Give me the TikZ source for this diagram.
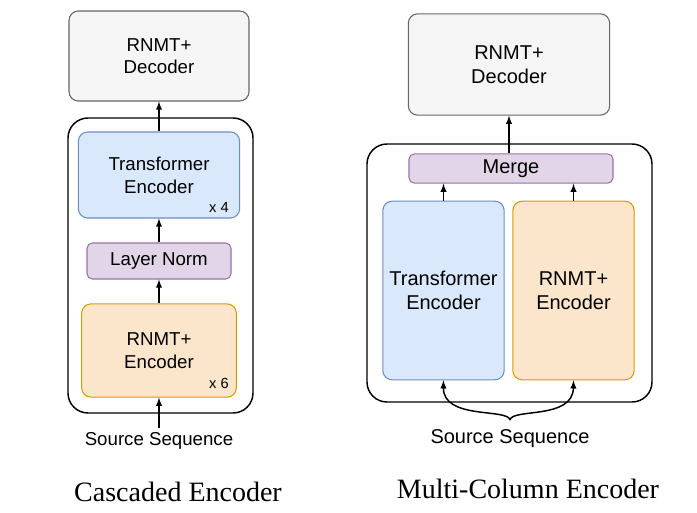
\documentclass[tikz,border=0pt]{standalone}
\usepackage{fontspec}
\setmainfont{Liberation Sans}
\newfontfamily\captionfont{Liberation Serif}
\usetikzlibrary{arrows}

\definecolor{decfill}{HTML}{F5F5F5}
\definecolor{decline}{HTML}{666666}
\definecolor{tffill}{HTML}{DAE8FC}
\definecolor{tfline}{HTML}{6C8EBF}
\definecolor{rnnfill}{HTML}{FBE6CC}
\definecolor{rnnline}{HTML}{D79B00}
\definecolor{normfill}{HTML}{E1D5E7}
\definecolor{normline}{HTML}{9673A6}

\tikzset{
  block/.style={rounded corners=7pt, line width=0.8pt, inner sep=0pt, align=center},
  decbox/.style={block, fill=decfill, draw=decline},
  tfbox/.style={block, fill=tffill, draw=tfline},
  rnnbox/.style={block, fill=rnnfill, draw=rnnline},
  normbox/.style={block, fill=normfill, draw=normline, rounded corners=4pt},
  outerbox/.style={rounded corners=15pt, line width=1.1pt},
  flow/.style={-latex, line width=1.1pt},
  small/.style={font=\fontsize{14}{17}\selectfont},
  large/.style={font=\fontsize{15}{18}\selectfont},
  repeat/.style={font=\fontsize{11}{13}\selectfont, inner sep=0pt},
  caption/.style={font=\captionfont\fontsize{21}{24}\selectfont}
}

\begin{document}
\begin{tikzpicture}[x=0.75pt, y=-0.75pt]
        \useasboundingbox (0,0) rectangle (697,512);

        %cascaded encoder
        \draw[outerbox] (68,118) rectangle (253,413);
        \node[decbox, small, minimum width=135pt, minimum height=67.5pt] (dec1) at (159,56) {RNMT+\\Decoder};
        \node[tfbox, small, minimum width=121pt, minimum height=64.5pt] (tf1) at (159,175) {Transformer\\Encoder};
        \node[normbox, small, minimum width=108pt, minimum height=27pt] (norm1) at (159,261) {Layer Norm};
        \node[rnnbox, small, minimum width=116pt, minimum height=70pt] (rnn1) at (159,350.5) {RNMT+\\Encoder};
        \node[repeat] (rep1) at (219,207) {x 4};
        \node[repeat] (rep2) at (219,383) {x 6};
        \node[small] (src1) at (159,441) {Source Sequence};
        \node[caption] (cap1) at (178,492) {Cascaded Encoder};

        \draw[flow] (src1) -- (rnn1);
        \draw[flow] (rnn1) -- (norm1);
        \draw[flow] (norm1) -- (tf1);
        \draw[flow] (tf1) -- (dec1);

        %multi-column encoder
        \draw[outerbox] (367,144) rectangle (652,402);
        \node[decbox, large, minimum width=151pt, minimum height=76pt] (dec2) at (509,64.5) {RNMT+\\Decoder};
        \node[normbox, large, minimum width=153pt, minimum height=22pt] (merge) at (511,168.5) {Merge};
        \node[tfbox, large, minimum width=91pt, minimum height=134pt] (tf2) at (443.5,290.5) {Transformer\\Encoder};
        \node[rnnbox, large, minimum width=91pt, minimum height=134pt] (rnn2) at (573.5,290.5) {RNMT+\\Encoder};
        \node[large] (src2) at (510,439) {Source Sequence};
        \node[caption] (cap2) at (528,489) {Multi-Column Encoder};
        \coordinate (tip) at (510,420);

        \draw[flow] (tf2.north) -- (tf2.north |- merge.south);
        \draw[flow] (rnn2.north) -- (rnn2.north |- merge.south);
        \draw[flow] (merge.north -| dec2) -- (dec2.south);
        \draw[flow] (tip) .. controls (508,408) and (443,420) .. (tf2.south);
        \draw[flow] (tip) .. controls (512,408) and (573,420) .. (rnn2.south);
\end{tikzpicture}
\end{document}
